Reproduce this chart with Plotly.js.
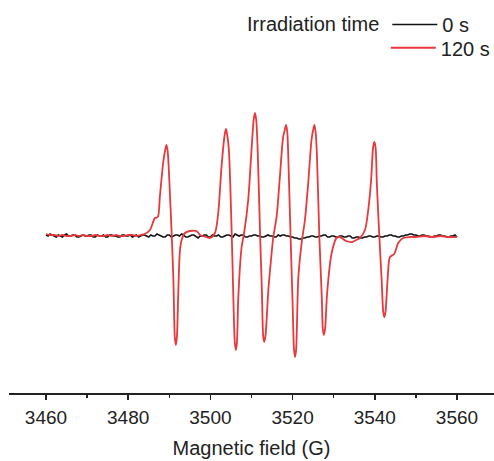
<!DOCTYPE html>
<html>
<head>
<meta charset="utf-8">
<script src="https://cdn.plot.ly/plotly-3.0.1.min.js"></script>
<style>html,body{margin:0;padding:0;background:#fff;}#chart{width:494px;height:461px;}</style>
</head>
<body>
<div id="chart"></div>
<script>
// Magnetic field (G) for the 0 s trace, 0.5 G steps
var fieldDark = [];
for (var g = 3460; g <= 3560; g += 0.5) fieldDark.push(g);
// EPR intensity (a.u.)
var intensityDark = [
  1, 0, 2, 1, 0, -1, 1, 0, -1, 1, 2, 0, 0, 1, 1, -1, -1, 0, 1, 0,
  0, 1, 1, -1, -1, 1, 0, 0, 1, -1, -1, 1, 1, 0, 0, -1, -1, 1, 1, 0,
  0, 1, -1, 0, 1, -1, 0, 1, 1, 0, -1, 1, 0, 0, 2, 1, 0, -1, -1, 1,
  1, -1, 0, 1, 1, 0, 2, 1, -1, -1, 0, 1, 1, -1, -2, 0, 0, 1, 1, -1,
  -1, 1, 0, 0, 1, -1, -1, 0, 1, 1, 0, -1, 2, 1, 0, 1, 1, -1, -1, 0,
  0, 1, 1, 0, 0, -1, -1, 0, 1, 0, 0, -1, -1, 1, 0, 1, 1, 0, 0, -1,
  -1, -2, -2, -3, -3, -2, -2, -1, -1, 0, 0, -1, -1, 0, 0, 1, 1, -1, -1, 0,
  0, -1, -1, 0, 0, -1, -1, 0, 0, -2, -2, -1, -1, -2, -2, -1, -1, 0, 0, -1,
  -1, 0, 0, -1, -1, 0, 0, 1, 1, 0, 0, -1, -1, 0, 0, 1, 1, 2, 2, 1,
  1, 0, 0, 1, 1, 0, 0, -1, -1, 0, 0, 1, 1, 0, 0, -1, -1, 0, 0, 1,
  -1
];

// Magnetic field (G) for the 120 s trace
var fieldLight = [
  3460, 3461, 3462, 3463, 3464, 3465, 3466, 3467, 3468, 3469,
  3470, 3471, 3472, 3473, 3474, 3475, 3476, 3477, 3478, 3479,
  3480, 3481, 3482, 3483, 3484,
  3485.3, 3486.5, 3487.2, 3487.7, 3488.5, 3489.0, 3489.3, 3489.6, 3490.0, 3490.6,
  3491.0, 3491.35, 3491.6, 3491.85, 3492.2, 3492.6, 3493.0, 3493.8, 3495.0, 3496.6,
  3497.5, 3499.0, 3499.9, 3501.1, 3501.9, 3502.7, 3503.5, 3503.8, 3504.1, 3504.5,
  3505.2, 3505.6, 3505.95, 3506.2, 3506.45, 3506.8, 3507.6, 3508.2, 3509.2, 3510.0,
  3510.55, 3510.85, 3511.15, 3511.5, 3512.1, 3512.5, 3512.85, 3513.1, 3513.4, 3514.1,
  3514.9, 3515.3, 3516.1, 3516.9, 3517.7, 3518.1, 3518.4, 3518.7, 3518.9, 3519.5,
  3520.0, 3520.35, 3520.6, 3520.85, 3521.4, 3522.2, 3523.0, 3523.8, 3524.6, 3525.0,
  3525.3, 3525.6, 3525.9, 3526.5, 3527.1, 3527.35, 3527.6, 3527.9, 3528.4, 3529.5,
  3530.7, 3531.5, 3533.0, 3534.5, 3535.5, 3536.4, 3537.6, 3538.4, 3539.1, 3539.6,
  3539.9, 3540.2, 3540.5, 3541.1, 3541.7, 3542.05, 3542.3, 3542.6, 3543.1, 3543.7,
  3544.7, 3545.7, 3546.9, 3548.6, 3550, 3552, 3554, 3556, 3558, 3560
];
// EPR intensity (a.u.)
var intensityLight = [
  2, 1, 1, 0, 1, 0, 0, 1, 0, 1,
  0, 0, 1, 0, 0, 1, 0, 1, 0, 0,
  1, 1, 0, 1, 2,
  6, 18, 19, 39, 73, 86, 91, 85, 56, 0,
  -44, -102, -109, -101, -54, -14, -4, 3, 5, 5,
  1, -1, -2, 3, 23, 69, 102, 107, 101, 86,
  0, -64, -107, -114, -107, -60, -11, 3, 36, 86,
  117, 123, 116, 86, 0, -51, -100, -106, -100, -54,
  -17, -1, 19, 59, 99, 106, 111, 104, 86, 0,
  -67, -114, -121, -114, -41, -7, 16, 53, 96, 106,
  111, 104, 83, 0, -61, -93, -99, -93, -57, -17,
  -2, -1, -5, -6, -4, -2, 6, 26, 56, 89,
  94, 88, 52, 0, -47, -76, -81, -76, -44, -21,
  -18, -7, -2, -1, -1, 0, -1, 0, -1, -1
];

var seriesNames = ['0 s', '120 s'];
var legendTitle = 'Irradiation time';
var xTicks = [3460, 3480, 3500, 3520, 3540, 3560];

var traces = [
  {
    x: fieldDark, y: intensityDark, name: seriesNames[0], type: 'scatter', mode: 'lines',
    line: {color: '#111111', width: 1.6}, legend: 'legend'
  },
  {
    x: fieldLight, y: intensityLight, name: seriesNames[1], type: 'scatter', mode: 'lines',
    line: {color: '#e8383b', width: 1.8, shape: 'spline', smoothing: 0.8}, legend: 'legend2'
  }
];

var fontFam = 'Liberation Sans, Arial, sans-serif';
var legFont = {size: 20, color: '#222222', family: fontFam};
var layout = {
  width: 494, height: 461,
  margin: {l: 9, r: 0, t: 90, b: 68, pad: 0, autoexpand: false},
  paper_bgcolor: '#ffffff', plot_bgcolor: '#ffffff',
  font: {family: fontFam, size: 19, color: '#222222'},
  showlegend: true,
  legend: {
    xref: 'container', yref: 'container', x: 0.496, xanchor: 'left', y: 0.989, yanchor: 'top',
    title: {text: legendTitle, side: 'left', font: legFont},
    font: legFont, bgcolor: 'rgba(0,0,0,0)', itemwidth: 45
  },
  legend2: {
    xref: 'container', yref: 'container', x: 0.781, xanchor: 'left', y: 0.9387, yanchor: 'top',
    font: legFont, bgcolor: 'rgba(0,0,0,0)', itemwidth: 45
  },
  xaxis: {
    range: [3451, 3569], tickvals: xTicks, ticktext: xTicks.map(String), tickangle: 0,
    ticks: 'outside', ticklen: 5, tickwidth: 1.5, tickcolor: '#222222',
    showline: true, linewidth: 1.5, linecolor: '#222222', showgrid: false, zeroline: false,
    minor: {dtick: 10, tick0: 3450, ticks: 'outside', ticklen: 3, tickwidth: 1.2, tickcolor: '#222222', showgrid: false},
    tickfont: {size: 19}, ticklabelstandoff: 2,
    title: {text: 'Magnetic field (G)', font: {size: 20}, standoff: 13}
  },
  yaxis: {visible: false, range: [-157, 146], showgrid: false, zeroline: false}
};

Plotly.newPlot('chart', traces, layout, {displayModeBar: false, staticPlot: true});
</script>
</body>
</html>
